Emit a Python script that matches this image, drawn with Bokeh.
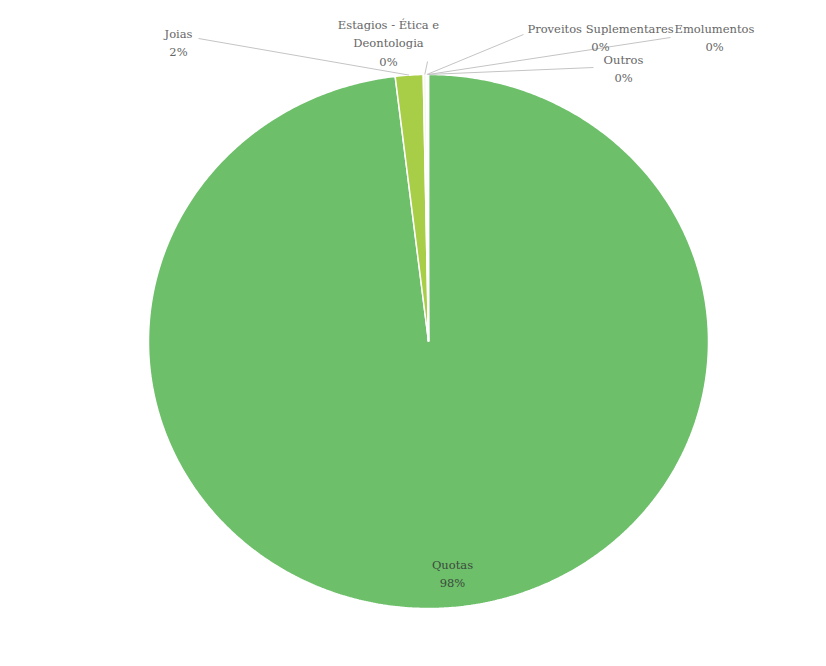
import numpy as np
from bokeh.plotting import figure
from bokeh.models import ColumnDataSource, Range1d
from bokeh.embed import file_html
from bokeh.resources import INLINE
from bokeh.core.properties import value

# ---- data ----
categories = ["Quotas", "Joias", "Estagios - Ética e\nDeontologia",
              "Proveitos Suplementares", "Outros", "Emolumentos"]
shares = [98.1, 1.6, 0.18, 0.05, 0.04, 0.03]
colors = ["#6dbf6a", "#a8cd46", "#f3f8ee", "#f3f8ee", "#f3f8ee", "#f3f8ee"]

# ---- layout ----
W, H = 826, 666
CX, CY, RX, RY = 428, 341, 280, 267
label_x = [452, 178, 388, 600, 623, 714]
label_y = [557, 26, 17, 21, 52, 21]
leader_x = [None, 198, 427, 523, 593, 670]
leader_y = [None, 38, 61, 34, 67, 37]

p = figure(width=W, height=H, x_range=Range1d(0, W), y_range=Range1d(H, 0),
           output_backend="svg", toolbar_location=None, min_border=0)
p.axis.visible = False
p.grid.visible = False
p.outline_line_color = None
p.background_fill_color = "white"
p.border_fill_color = "white"

total = sum(shares)
cum = np.concatenate([[0], np.cumsum(shares)]) / total * 2 * np.pi
xs, ys, mids = [], [], []
for i in range(len(shares)):
    a0, a1 = cum[i], cum[i + 1]
    n = max(3, int(np.degrees(a1 - a0) * 2))
    t = np.linspace(a0, a1, n)
    xs.append(np.concatenate([[CX], CX + RX * np.sin(t)]).tolist())
    ys.append(np.concatenate([[CY], CY - RY * np.cos(t)]).tolist())
    mids.append((a0 + a1) / 2)

p.patches(xs=xs, ys=ys, fill_color=colors, line_color="white", line_width=1.5)

# leader lines
x0, y0, x1, y1 = [], [], [], []
for i in range(1, len(shares)):
    x0.append(leader_x[i]); y0.append(leader_y[i])
    x1.append(CX + RX * np.sin(mids[i])); y1.append(CY - RY * np.cos(mids[i]))
p.segment(x0=x0, y0=y0, x1=x1, y1=y1, line_color="#c4c4c4", line_width=1)

texts = [f"{c}\n{round(s):.0f}%" for c, s in zip(categories, shares)]
tcol = ["#3c4a3c"] + ["#666666"] * (len(shares) - 1)
src = ColumnDataSource(dict(x=label_x, y=label_y, t=texts, c=tcol))
p.text(x="x", y="y", text="t", source=src, text_color="c",
       text_font=value("DejaVu Serif"), text_font_size="11.5px",
       text_align="center", text_baseline="top", text_line_height=1.35)

open("out.html", "w").write(file_html(p, INLINE))
